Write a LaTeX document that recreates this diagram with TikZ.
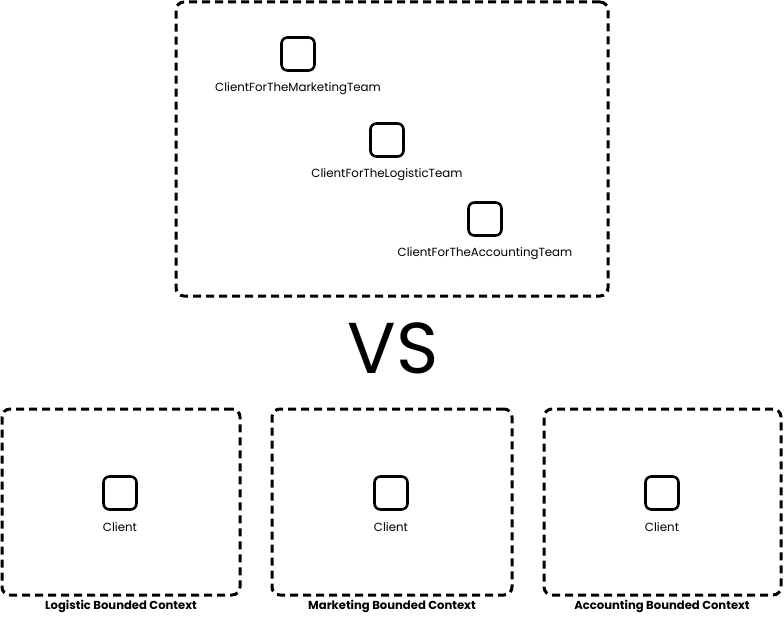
\documentclass[tikz,border=0pt]{standalone}
\usepackage{fontspec}
\setmainfont{Poppins}
\begin{document}
\begin{tikzpicture}[x=1pt,y=-1pt,
  ctx/.style={draw,line width=3pt,dash pattern=on 8pt off 5pt,rounded corners=8pt,inner sep=0pt},
  cls/.style={draw,line width=2.6pt,rounded corners=6pt,minimum width=33pt,minimum height=33pt,inner sep=0pt},
  lbl/.style={font=\fontsize{11.8}{13}\selectfont,inner sep=0pt},
  ctxlbl/.style={font=\bfseries\fontsize{11.6}{13}\selectfont,inner sep=0pt}]
\useasboundingbox (0,0) rectangle (784,618);
% top box
\node[ctx,minimum width=432pt,minimum height=294pt] (top) at (392,149) {};
\node[cls] (cm) at (298,54) {};
\node[lbl] (tm) at (298,88.5) {ClientForTheMarketingTeam};
\node[cls] (cl) at (387,140) {};
\node[lbl] (tl) at (387,174.5) {ClientForTheLogisticTeam};
\node[cls] (ca) at (485,219) {};
\node[lbl] (ta) at (485,253.5) {ClientForTheAccountingTeam};
% VS
\node[font=\fontsize{72}{74}\selectfont,inner sep=0pt] (vs) at (393,348) {VS};
% bottom boxes
\node[ctx,minimum width=238pt,minimum height=186pt] (b1) at (121,502) {};
\node[ctx,minimum width=240pt,minimum height=186pt] (b2) at (392,502) {};
\node[ctx,minimum width=237pt,minimum height=186pt] (b3) at (662.5,502) {};
\node[cls] (c1) at (120,493) {};
\node[cls] (c2) at (391,493) {};
\node[cls] (c3) at (662,493) {};
\node[lbl] (t1) at (120,527) {Client};
\node[lbl] (t2) at (391,527) {Client};
\node[lbl] (t3) at (662,527) {Client};
\node[ctxlbl] (l1) at (121,606.5) {Logistic Bounded Context};
\node[ctxlbl] (l2) at (392,606.5) {Marketing Bounded Context};
\node[ctxlbl] (l3) at (662,606.5) {Accounting Bounded Context};
\end{tikzpicture}
\end{document}
